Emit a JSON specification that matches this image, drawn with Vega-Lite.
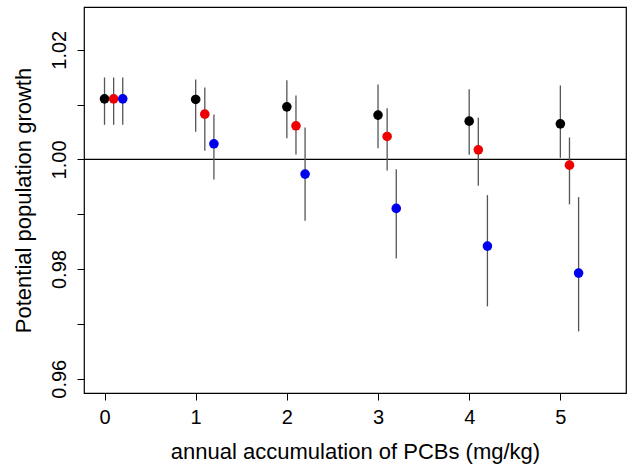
{
  "$schema": "https://vega.github.io/schema/vega-lite/v6.json",
  "width": 542,
  "height": 386,
  "autosize": {"type": "none"},
  "padding": {"left": 84, "top": 7, "right": 2, "bottom": 75},
  "background": "white",
  "config": {
    "view": {"stroke": "black", "strokeWidth": 1.2},
    "font": "Liberation Sans",
    "axis": {
      "grid": false,
      "domain": false,
      "tickColor": "black",
      "tickSize": 7,
      "labelFont": "Liberation Sans",
      "labelFontSize": 20,
      "labelColor": "black",
      "titleFont": "Liberation Sans",
      "titleFontSize": 22,
      "titleFontWeight": "normal",
      "titleColor": "black"
    }
  },
  "data": {
    "values": [
      {"x": 0.0, "g": "a", "y": 1.01105, "lo": 1.00631, "hi": 1.01495},
      {"x": 0.1, "g": "b", "y": 1.01105, "lo": 1.00631, "hi": 1.01495},
      {"x": 0.2, "g": "c", "y": 1.01105, "lo": 1.00631, "hi": 1.01495},
      {"x": 1.0, "g": "a", "y": 1.01094, "lo": 1.00503, "hi": 1.01459},
      {"x": 1.1, "g": "b", "y": 1.00826, "lo": 1.00157, "hi": 1.01313},
      {"x": 1.2, "g": "c", "y": 1.00285, "lo": 0.99635, "hi": 1.0082},
      {"x": 2.0, "g": "a", "y": 1.00959, "lo": 1.00388, "hi": 1.01446},
      {"x": 2.1, "g": "b", "y": 1.00613, "lo": 1.00091, "hi": 1.01167},
      {"x": 2.2, "g": "c", "y": 0.99732, "lo": 0.98881, "hi": 1.00583},
      {"x": 3.0, "g": "a", "y": 1.00808, "lo": 1.00206, "hi": 1.01367},
      {"x": 3.1, "g": "b", "y": 1.00419, "lo": 0.998, "hi": 1.00935},
      {"x": 3.2, "g": "c", "y": 0.99107, "lo": 0.98195, "hi": 0.99823},
      {"x": 4.0, "g": "a", "y": 1.00698, "lo": 1.00084, "hi": 1.01282},
      {"x": 4.1, "g": "b", "y": 1.00175, "lo": 0.99519, "hi": 1.00758},
      {"x": 4.2, "g": "c", "y": 0.98419, "lo": 0.9732, "hi": 0.99349},
      {"x": 5.0, "g": "a", "y": 1.00649, "lo": 1.00029, "hi": 1.01349},
      {"x": 5.1, "g": "b", "y": 0.99896, "lo": 0.9918, "hi": 1.00401},
      {"x": 5.2, "g": "c", "y": 0.97927, "lo": 0.96864, "hi": 0.99313}
    ]
  },
  "layer": [
    {
      "data": {"values": [{"h": 1.0}]},
      "mark": {"type": "rule", "color": "black", "strokeWidth": 1.2},
      "encoding": {"y": {"field": "h", "type": "quantitative", "scale": {"domain": [0.9574, 1.0278], "nice": false, "zero": false}}}
    },
    {
      "mark": {"type": "rule", "color": "#555555", "strokeWidth": 1.3},
      "encoding": {
        "x": {"field": "x", "type": "quantitative"},
        "y": {"field": "lo", "type": "quantitative"},
        "y2": {"field": "hi"}
      }
    },
    {
      "mark": {"type": "point", "filled": true, "opacity": 1, "size": 92, "shape": "circle"},
      "encoding": {
        "x": {
          "field": "x", "type": "quantitative",
          "scale": {"domain": [-0.225, 5.72], "nice": false, "zero": false},
          "axis": {"values": [0, 1, 2, 3, 4, 5], "format": "d", "title": "annual accumulation of PCBs (mg/kg)", "labelPadding": 7, "titlePadding": 14}
        },
        "y": {
          "field": "y", "type": "quantitative",
          "scale": {"domain": [0.9574, 1.0278], "nice": false, "zero": false},
          "axis": {
            "values": [0.96, 0.97, 0.98, 0.99, 1.0, 1.01, 1.02],
            "labelExpr": "(abs(datum.value*100 - round(datum.value*100)) < 0.01 && round(datum.value*100) % 2 == 0) ? format(datum.value, '.2f') : ''",
            "labelAngle": -90,
            "labelAlign": "center",
            "labelBaseline": "bottom",
            "labelPadding": 8,
            "title": "Potential population growth",
            "titlePadding": 14
          }
        },
        "color": {
          "field": "g", "type": "nominal", "legend": null,
          "scale": {"domain": ["a", "b", "c"], "range": ["#000000", "#EE0000", "#0000EE"]}
        }
      }
    }
  ]
}
